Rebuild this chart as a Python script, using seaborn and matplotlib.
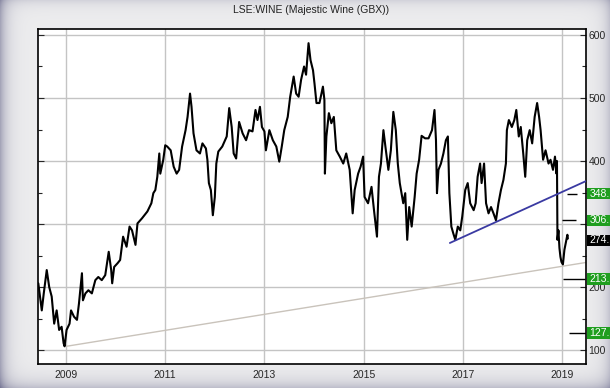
import numpy as np
import matplotlib
matplotlib.use("Agg")
import matplotlib.pyplot as plt
import matplotlib.transforms as mtransforms
from matplotlib.patches import Rectangle
import seaborn as sns

# price (decimal year, pence)
years = [2008.44, 2008.51, 2008.55, 2008.61, 2008.66, 2008.71, 2008.76, 2008.81, 2008.86, 2008.91,
         2008.95, 2008.97, 2009.01, 2009.07, 2009.10, 2009.16, 2009.22, 2009.26, 2009.32, 2009.34,
         2009.39, 2009.45, 2009.52, 2009.59, 2009.65, 2009.72, 2009.79, 2009.86, 2009.91, 2009.93,
         2009.97, 2010.04, 2010.09, 2010.15, 2010.22, 2010.28, 2010.33, 2010.40, 2010.44, 2010.53,
         2010.64, 2010.72, 2010.76, 2010.80, 2010.84, 2010.88, 2010.90, 2010.96, 2011.00, 2011.04,
         2011.11, 2011.17, 2011.23, 2011.28, 2011.34, 2011.41, 2011.45, 2011.50, 2011.53, 2011.57,
         2011.63, 2011.70, 2011.75, 2011.82, 2011.85, 2011.88, 2011.92, 2011.96, 2012.00, 2012.03,
         2012.07, 2012.15, 2012.24, 2012.29, 2012.34, 2012.38, 2012.43, 2012.49, 2012.56, 2012.63,
         2012.69, 2012.76, 2012.82, 2012.86, 2012.91, 2012.95, 2013.00, 2013.03, 2013.10, 2013.17,
         2013.24, 2013.30, 2013.35, 2013.40, 2013.47, 2013.52, 2013.59, 2013.64, 2013.69, 2013.74,
         2013.80, 2013.84, 2013.89, 2013.93, 2013.98, 2014.01, 2014.05, 2014.11, 2014.18, 2014.21,
         2014.22, 2014.25, 2014.30, 2014.35, 2014.40, 2014.45, 2014.52, 2014.59, 2014.65, 2014.72,
         2014.78, 2014.82, 2014.89, 2014.94, 2014.99, 2015.02, 2015.09, 2015.16, 2015.21, 2015.27,
         2015.31, 2015.35, 2015.40, 2015.44, 2015.50, 2015.55, 2015.60, 2015.65, 2015.69, 2015.73,
         2015.80, 2015.84, 2015.88, 2015.92, 2015.97, 2016.03, 2016.07, 2016.12, 2016.17, 2016.24,
         2016.31, 2016.38, 2016.43, 2016.46, 2016.48, 2016.51, 2016.56, 2016.61, 2016.66, 2016.70,
         2016.73, 2016.77, 2016.81, 2016.85, 2016.90, 2016.95, 2016.99, 2017.05, 2017.10, 2017.15,
         2017.22, 2017.26, 2017.30, 2017.35, 2017.38, 2017.43, 2017.47, 2017.52, 2017.57, 2017.62,
         2017.67, 2017.72, 2017.77, 2017.82, 2017.87, 2017.89, 2017.93, 2017.99, 2018.04, 2018.08,
         2018.13, 2018.17, 2018.22, 2018.26, 2018.30, 2018.35, 2018.40, 2018.45, 2018.50, 2018.54,
         2018.57, 2018.62, 2018.67, 2018.73, 2018.77, 2018.82, 2018.86, 2018.89, 2018.90, 2018.91,
         2018.93, 2018.95, 2018.97, 2018.99, 2019.02, 2019.05, 2019.09, 2019.11, 2019.12]
prices = [206, 163, 190, 227, 200, 185, 142, 163, 132, 137,
          111, 106, 132, 142, 163, 153, 148, 174, 222, 179,
          190, 195, 190, 211, 216, 211, 219, 256, 227, 206,
          232, 238, 243, 280, 264, 296, 290, 267, 301, 309,
          320, 333, 349, 354, 375, 412, 380, 402, 425, 423,
          417, 391, 380, 386, 423, 449, 470, 507, 486, 444,
          417, 412, 428, 420, 402, 365, 354, 314, 343, 396,
          415, 423, 439, 484, 454, 412, 404, 462, 444, 433,
          449, 447, 481, 465, 486, 454, 447, 417, 449, 433,
          423, 399, 423, 449, 470, 502, 534, 507, 502, 529,
          550, 537, 587, 560, 544, 523, 492, 492, 518, 497,
          380, 439, 476, 460, 470, 417, 407, 396, 412, 386,
          317, 354, 380, 391, 407, 343, 333, 359, 322, 280,
          375, 396, 449, 423, 386, 417, 478, 449, 396, 365,
          333, 349, 275, 327, 296, 343, 380, 402, 440, 436,
          436, 449, 481, 433, 349, 386, 396, 412, 433, 439,
          349, 296, 285, 275, 296, 290, 312, 354, 365, 333,
          322, 333, 375, 396, 365, 396, 333, 317, 327, 317,
          306, 333, 354, 370, 396, 449, 465, 454, 465, 481,
          439, 454, 412, 375, 433, 449, 428, 470, 492, 470,
          449, 402, 417, 396, 402, 386, 407, 380, 400, 275,
          290, 262, 248, 240, 236, 259, 275, 283, 277]

# trend lines (end points)
support_x = [2009.0, 2019.48]
support_y = [106, 239]
trend_x = [2016.74, 2019.48]
trend_y = [270, 368]

# short target markers near the right edge
level_values = [348, 306, 213, 127]
level_starts = [2019.11, 2019.00, 2019.03, 2019.15]
level_ends = [2019.31, 2019.29, 2019.47, 2019.49]

# coloured value tags on the right axis (cut at the image edge in the original)
tag_values = [348, 306, 274, 213, 127]
tag_texts = ['348.', '306.', '274.', '213.', '127.']
tag_colors = ['#1f9e1f', '#1f9e1f', '#000000', '#1f9e1f', '#1f9e1f']

xticks = [2009, 2011, 2013, 2015, 2017, 2019]
yticks = [100, 200, 300, 400, 500, 600]
ytick_labels = ['100', '200', '', '400', '500', '600']   # 300 sits under the 306 tag
title = 'LSE:WINE (Majestic Wine (GBX))'

sns.set_style('white')
plt.rcParams['font.family'] = ['Liberation Sans', 'DejaVu Sans']

fig = plt.figure(figsize=(6.1, 3.88), dpi=100)

# bevelled grey frame behind everything
h, w = 388, 610
yy, xx = np.mgrid[0:h, 0:w]
dark = (0.28 * np.exp(-xx / 7.0) + 0.10 * np.exp(-yy / 6.0)
        + 0.16 * np.exp(-(w - 1 - xx) / 7.0) + 0.18 * np.exp(-(h - 1 - yy) / 8.0))
rgb = np.dstack([0.93 - dark, 0.93 - dark, 0.935 - dark * 0.75])
bg = fig.add_axes([0, 0, 1, 1], zorder=-10)
bg.imshow(np.clip(rgb, 0, 1), aspect='auto', interpolation='bilinear')
bg.axis('off')

ax = fig.add_axes([0.0628, 0.0619, 0.8974, 0.8634])
ax.set_facecolor('white')

sns.lineplot(x=years, y=prices, ax=ax, color='black', linewidth=1.5,
             estimator=None, sort=False, zorder=3)
ax.plot(support_x, support_y, color='#c9c3bb', linewidth=1.0, zorder=2)
ax.plot(trend_x, trend_y, color='#3a3aa2', linewidth=1.3, zorder=4)
ax.hlines(level_values, level_starts, level_ends, color='black', linewidth=1.0, zorder=4)

ax.set_xlim(2008.44, 2019.48)
ax.set_ylim(78, 609.5)
ax.set_xticks(xticks)
ax.set_xticklabels([str(t) for t in xticks])
ax.set_yticks(yticks)
ax.set_yticklabels(ytick_labels)
ax.set_yticks([v + 50 for v in yticks[:-1]], minor=True)
ax.yaxis.tick_right()
ax.grid(True, which='major', color='#c4c4c4', linewidth=1.0)
ax.tick_params(axis='y', which='both', direction='in', left=True, right=True,
               labelleft=False, labelright=True, labelsize=7.5, pad=2, width=0.8)
ax.tick_params(axis='y', which='major', length=4)
ax.tick_params(axis='y', which='minor', length=3)
ax.tick_params(axis='x', length=0, labelsize=7.5, pad=4)
for s in ax.spines.values():
    s.set_color('black')
    s.set_linewidth(1.2)
ax.set_xlabel('')
ax.set_ylabel('')

trans = mtransforms.blended_transform_factory(ax.transAxes, ax.transData)
for v, t, c in zip(tag_values, tag_texts, tag_colors):
    ax.add_patch(Rectangle((1.002, v - 9), 0.06, 18, transform=trans, facecolor=c,
                           edgecolor='none', clip_on=False, zorder=5))
    ax.text(1.007, v, t, transform=trans, color='white', fontsize=7.5,
            ha='left', va='center', clip_on=False, zorder=6)

fig.text(0.51, 0.973, title, ha='center', va='center', fontsize=7.5, color='#222222')

plt.savefig('out.png', dpi=100)
